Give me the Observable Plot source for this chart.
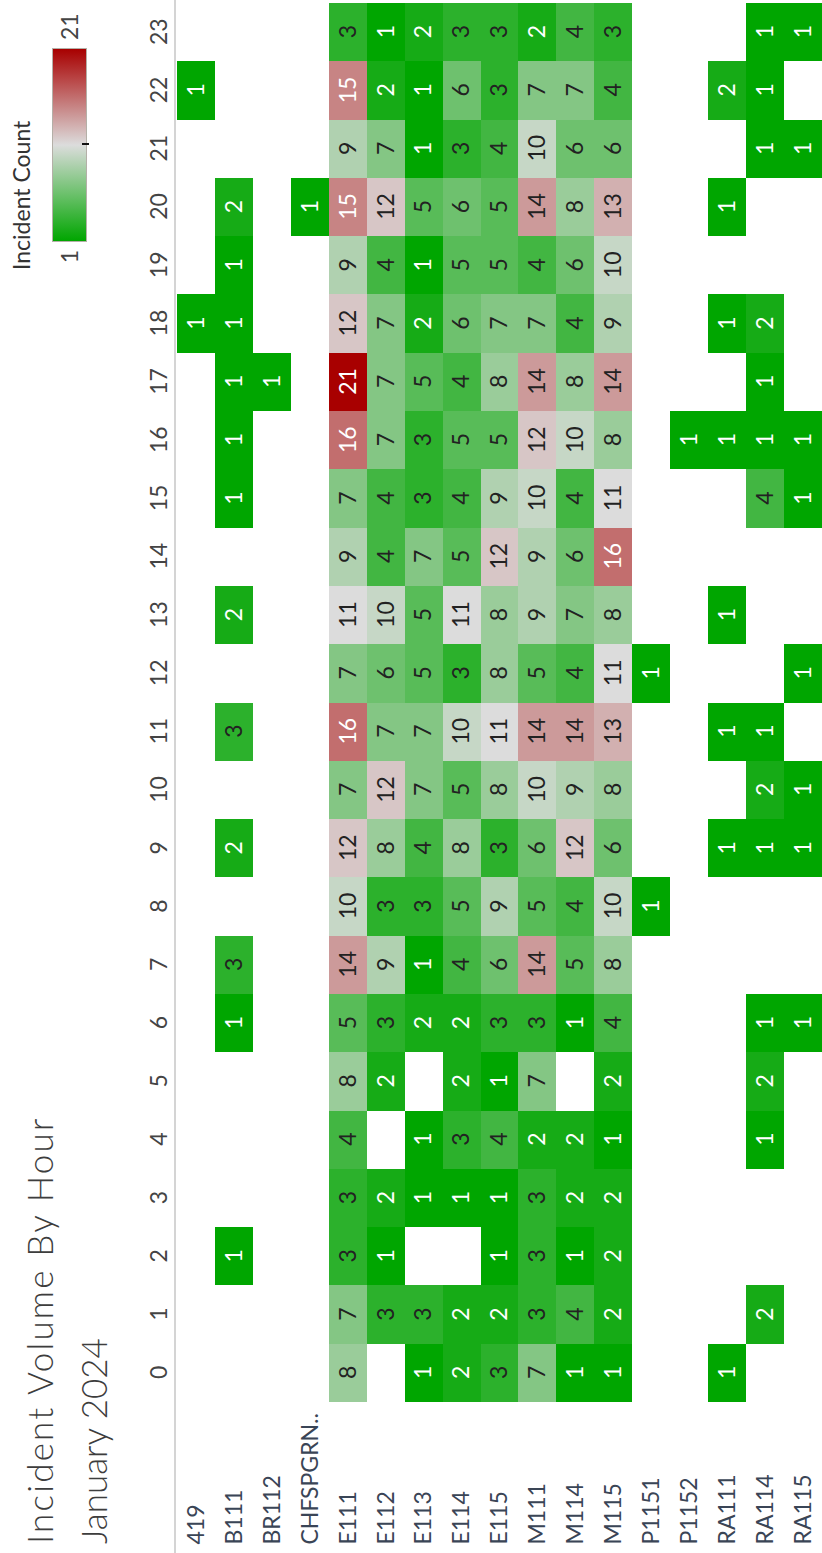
<!DOCTYPE html>
<html>
<head>
<meta charset="utf-8">
<script src="https://cdn.jsdelivr.net/npm/d3@7"></script>
<script src="https://cdn.jsdelivr.net/npm/@observablehq/plot@0.6"></script>
<style>
  html, body { margin: 0; padding: 0; background: #fff; }
  #page { position: relative; width: 822px; height: 1553px; overflow: hidden; background: #fff; }
  #land { position: absolute; left: 0; top: 0; width: 1553px; height: 822px;
          transform-origin: 0 0; transform: translate(0px, 1553px) rotate(-90deg);
          font-family: Lato, "Open Sans", sans-serif; background: #fff; }
  .t { position: absolute; white-space: nowrap; line-height: 1; }
  #title1, #title2 { font-size: 35px; font-weight: 300; color: #3d3d3d; left: 9px; }
  #title1 { top: 22px; letter-spacing: 2.2px; }
  #title2 { top: 76px; }
  #legTitle { font-size: 23px; color: #333; left: 1283px; top: 10px; }
  #legBar { position: absolute; left: 1311px; top: 52px; width: 192px; height: 33px; border: 1px solid #b4b0a8; }
  #legTick { position: absolute; left: 1408px; top: 82px; width: 2px; height: 7px; background: #111; }
  .legLab { font-size: 23px; color: #444; top: 58px; }
  #rule { position: absolute; left: 0; top: 174px; width: 1553px; height: 2px; background: #d4d4d4; }
  #chart { position: absolute; left: 0; top: 0; width: 1553px; height: 822px; }
</style>
</head>
<body>
<div id="page">
  <div id="land">
    <div id="chart"></div>
    <div id="rule"></div>
    <div class="t" id="title1">Incident Volume By Hour</div>
    <div class="t" id="title2">January 2024</div>
    <div class="t" id="legTitle">Incident Count</div>
    <div id="legBar"></div>
    <div id="legTick"></div>
    <div class="t legLab" id="legMin" style="right:250px">1</div>
    <div class="t legLab" id="legMax" style="left:1513px">21</div>
  </div>
</div>
<script>
const _ = null;
// Hours (columns) and units (rows)
const hours = [0,1,2,3,4,5,6,7,8,9,10,11,12,13,14,15,16,17,18,19,20,21,22,23];
const units = ["419","B111","BR112","CHFSPGRN..","E111","E112","E113","E114","E115","M111","M114","M115","P1151","P1152","RA111","RA114","RA115"];

// Incident counts per unit, hour 0..23 (null = no incidents)
const u419     = [_,_,_,_,_,_,_,_,_,_,_,_,_,_,_,_,_,_,1,_,_,_,1,_];
const uB111    = [_,_,1,_,_,_,1,3,_,2,_,3,_,2,_,1,1,1,1,1,2,_,_,_];
const uBR112   = [_,_,_,_,_,_,_,_,_,_,_,_,_,_,_,_,_,1,_,_,_,_,_,_];
const uCHF     = [_,_,_,_,_,_,_,_,_,_,_,_,_,_,_,_,_,_,_,_,1,_,_,_];
const uE111    = [8,7,3,3,4,8,5,14,10,12,7,16,7,11,9,7,16,21,12,9,15,9,15,3];
const uE112    = [_,3,1,2,_,2,3,9,3,8,12,7,6,10,4,4,7,7,7,4,12,7,2,1];
const uE113    = [1,3,_,1,1,_,2,1,3,4,7,7,5,5,7,3,3,5,2,1,5,1,1,2];
const uE114    = [2,2,_,1,3,2,2,4,5,8,5,10,3,11,5,4,5,4,6,5,6,3,6,3];
const uE115    = [3,2,1,1,4,1,3,6,9,3,8,11,8,8,12,9,5,8,7,5,5,4,3,3];
const uM111    = [7,3,3,3,2,7,3,14,5,6,10,14,5,9,9,10,12,14,7,4,14,10,7,2];
const uM114    = [1,4,1,2,2,_,1,5,4,12,9,14,4,7,6,4,10,8,4,6,8,6,7,4];
const uM115    = [1,2,2,2,1,2,4,8,10,6,8,13,11,8,16,11,8,14,9,10,13,6,4,3];
const uP1151   = [_,_,_,_,_,_,_,_,1,_,_,_,1,_,_,_,_,_,_,_,_,_,_,_];
const uP1152   = [_,_,_,_,_,_,_,_,_,_,_,_,_,_,_,_,1,_,_,_,_,_,_,_];
const uRA111   = [1,_,_,_,_,_,_,_,_,1,_,1,_,1,_,_,1,_,1,_,1,_,2,_];
const uRA114   = [_,2,_,_,1,2,1,_,_,1,2,1,_,_,_,4,1,1,2,_,_,1,1,1];
const uRA115   = [_,_,_,_,_,_,1,_,_,1,1,_,1,_,_,1,1,_,_,_,_,1,_,1];

const series = [u419,uB111,uBR112,uCHF,uE111,uE112,uE113,uE114,uE115,uM111,uM114,uM115,uP1151,uP1152,uRA111,uRA114,uRA115];

// Colour scale stops
const colorDomain = [1, 11, 21];
const colorRange = ["#00a600", "#dcdcdc", "#a80000"];

const data = [];
series.forEach((vals, i) => vals.forEach((v, h) => {
  if (v != null) data.push({unit: units[i], hour: hours[h], count: v});
}));
const light = data.filter(d => d.count <= 2 || d.count >= 15);
const dark = data.filter(d => !(d.count <= 2 || d.count >= 15));

const chart = Plot.plot({
  width: 1553,
  height: 822,
  marginLeft: 151,
  marginRight: 3,
  marginTop: 177,
  marginBottom: 0,
  style: {fontFamily: "Lato, 'Open Sans', sans-serif", fontSize: "23px", color: "#444", background: "transparent"},
  x: {type: "band", domain: hours, padding: 0, round: false, axis: null},
  y: {type: "band", domain: units, padding: 0, round: false, axis: null},
  color: {type: "linear", domain: colorDomain, range: colorRange, interpolate: "rgb"},
  marks: [
    Plot.cell(data, {x: "hour", y: "unit", fill: "count", inset: 0, shapeRendering: "crispEdges"}),
    Plot.text(light, {x: "hour", y: "unit", text: "count", fill: "#ffffff", fontSize: 23}),
    Plot.text(dark, {x: "hour", y: "unit", text: "count", fill: "#222", fontSize: 23}),
    Plot.axisX({anchor: "top", tickSize: 0, tickPadding: 11, fontSize: 23, fill: "#444", label: null}),
    Plot.axisY({anchor: "left", tickSize: 0, tickPadding: 0, textAnchor: "start", dx: -143, fontSize: 23, fill: "#3a4556", label: null})
  ]
});
chart.style.maxWidth = "none";
document.getElementById("chart").appendChild(chart);

// Legend gradient built from the same colour interpolation
const legScale = d3.scaleLinear().domain(colorDomain).range(colorRange).interpolate(d3.interpolateRgb);
const stops = d3.range(0, 21).map(i => {
  const v = 1 + i;
  return `${legScale(v)} ${(i / 20 * 100).toFixed(1)}%`;
});
document.getElementById("legBar").style.background = `linear-gradient(to right, ${stops.join(", ")})`;
</script>
</body>
</html>
